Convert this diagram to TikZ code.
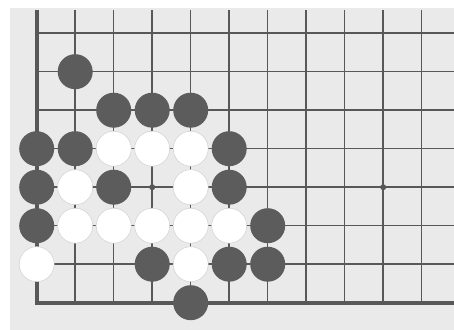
\documentclass[tikz,border=0pt]{standalone}
\usepackage{xcolor}
\definecolor{stonedark}{RGB}{92, 92, 92}
\definecolor{gridgrey}{RGB}{88, 88, 88}
\definecolor{boardgrey}{RGB}{234, 234, 234}
\definecolor{rimgrey}{RGB}{210, 210, 210}
\usetikzlibrary{positioning}

\tikzset{
  blackstone/.style={circle, fill=stonedark, minimum size=7mm, inner sep=0pt},
  whitestone/.style={circle, fill=white, draw=rimgrey, line width=0.3pt, minimum size=7mm, inner sep=0pt},
  starpoint/.style={circle, fill=gridgrey, minimum size=1.2mm, inner sep=0pt}
}

\begin{document}
\begin{tikzpicture}[x=0.77cm, y=0.77cm]

  % ---------- board ----------
  \useasboundingbox (-0.953, -0.709) rectangle (10.839, 7.862);
  \fill[white] (-0.953, -0.709) rectangle (10.839, 7.862);
  \fill[boardgrey] (-0.69, -0.709) rectangle (10.839, 7.65);

  % grid lines
  \foreach \c in {1,...,10} {
    \draw[gridgrey, line width=0.85pt] (\c, 0) -- (\c, 7.6);
  }
  \foreach \r in {1,...,7} {
    \draw[gridgrey, line width=0.85pt] (0, \r) -- (10.839, \r);
  }

  % edges of the board
  \draw[gridgrey, line width=2.3pt] (0, 7.6) -- (0, 0) -- (10.839, 0);

  % star points
  \node[starpoint] (s1) at (3, 3) {};
  \node[starpoint] (s2) at (9, 3) {};

  % ---------- black stones ----------
  \foreach \c/\r [count=\n] in {1/6, 2/5, 3/5, 4/5, 0/4, 1/4, 5/4, 0/3, 2/3, 5/3,
                                0/2, 6/2, 3/1, 5/1, 6/1, 4/0} {
    \node[blackstone] (b\n) at (\c, \r) {};
  }

  % ---------- white stones ----------
  \foreach \c/\r [count=\n] in {2/4, 3/4, 4/4, 1/3, 4/3, 1/2, 2/2, 3/2, 4/2, 5/2,
                                0/1, 4/1} {
    \node[whitestone] (w\n) at (\c, \r) {};
  }

\end{tikzpicture}
\end{document}
